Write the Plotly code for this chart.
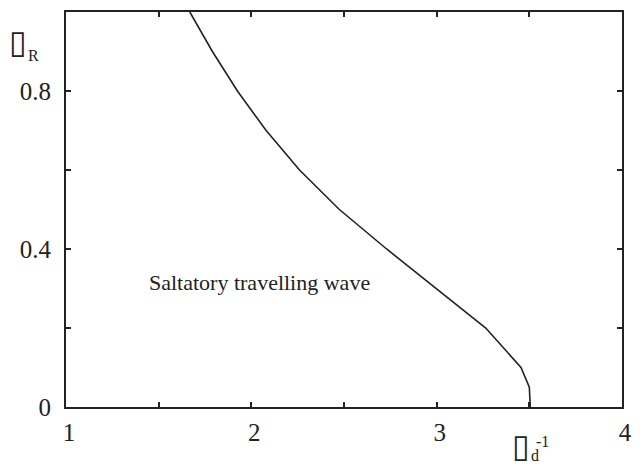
import plotly.graph_objects as go

# Data
x_vals = [1.668, 1.79, 1.925, 2.08, 2.26, 2.475, 2.73, 3.0, 3.265, 3.455, 3.50, 3.505]
y_vals = [1.0, 0.9, 0.8, 0.7, 0.6, 0.5, 0.4, 0.3, 0.2, 0.1, 0.05, 0.0]

x_tickvals = [1, 1.5, 2, 2.5, 3, 3.5, 4]
x_ticktext = ["1", "", "2", "", "3", "", "4"]
y_tickvals = [0, 0.2, 0.4, 0.6, 0.8, 1.0]
y_ticktext = ["0", "", "0.4", "", "0.8", ""]

region_label = "Saltatory travelling wave"

SERIF = "Liberation Serif, Times New Roman, serif"
INK = "#222222"

fig = go.Figure()
fig.add_trace(go.Scatter(x=x_vals, y=y_vals, mode="lines",
                         line=dict(color=INK, width=1.6), showlegend=False,
                         hoverinfo="skip"))

axis_common = dict(showline=True, linecolor=INK, linewidth=1.8, mirror="ticks",
                   ticks="inside", ticklen=5, tickwidth=1.6, tickcolor=INK,
                   showgrid=False, zeroline=False,
                   tickfont=dict(family=SERIF, size=25, color=INK))

fig.update_layout(
    width=642, height=466,
    margin=dict(l=66, r=10, t=12, b=59),
    paper_bgcolor="white", plot_bgcolor="white",
    xaxis=dict(range=[1, 4], tickvals=x_tickvals, ticktext=x_ticktext,
               ticklabelstandoff=2, ticklabelshift=3, **axis_common),
    yaxis=dict(range=[0, 1], tickvals=y_tickvals, ticktext=y_ticktext,
               ticklabelstandoff=8, **axis_common),
)

fig.add_annotation(x=2.045, y=0.314, xref="x", yref="y", text=region_label,
                   showarrow=False, font=dict(family=SERIF, size=22, color=INK))

# axis labels (rendered glyph boxes as in the reference), positions in pixels
labels = [
    ("▯", 17, 42, "DejaVu Sans", 32),
    ("R", 33, 55, SERIF, 16),
    ("▯", 529, 446, "DejaVu Sans", 32),
    ("d", 543, 455, SERIF, 16),
    ("-1", 551, 441, SERIF, 16),
]
top, bottom = 12, 466 - 59
pw, ph = 642 - 66 - 10, bottom - top
for txt, px, py, fam, sz in labels:
    fig.add_annotation(x=(px - 66) / pw, y=(bottom - py) / ph, xref="paper", yref="paper",
                       text=txt, showarrow=False, xanchor="center", yanchor="middle",
                       font=dict(family=fam, size=sz, color=INK))

fig.write_html("out.html")
